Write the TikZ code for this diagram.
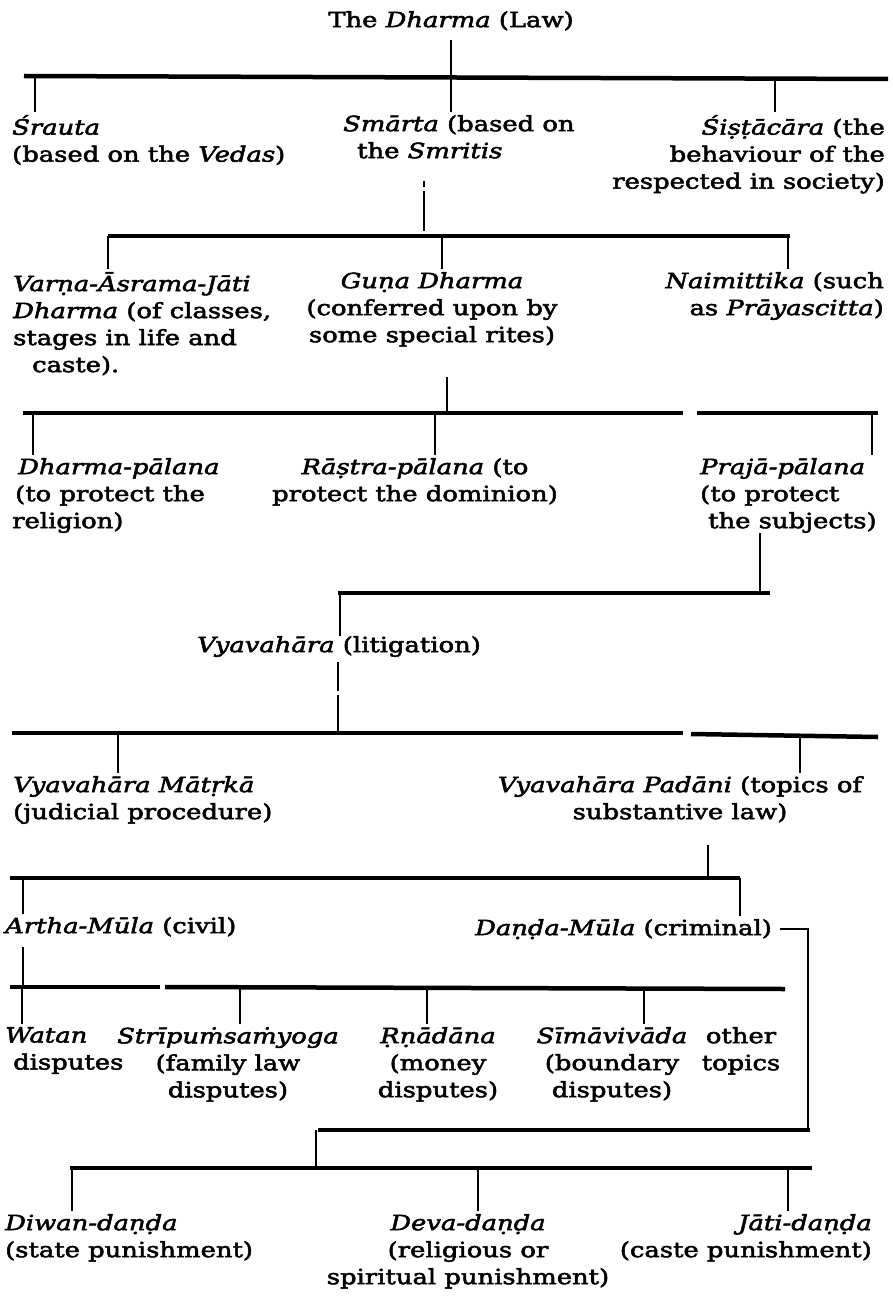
\documentclass[tikz,border=0pt]{standalone}
\usepackage{fontspec}
\setmainfont{DejaVu Serif}[FakeStretch=1.23,FakeBold=2.5]
\usepackage{tikz}

\begin{document}
\begin{tikzpicture}[x=1pt,y=-1pt,
  bar/.style={line width=4.5pt},
  tick/.style={line width=1.3pt},
  lbl/.style={inner sep=0pt,font=\fontsize{21}{27}\selectfont}]
\useasboundingbox (0,0) rectangle (892,1300);

\node[lbl,anchor=north] (title) at (451,11) {The \textit{Dharma} (Law)};
\node[lbl,anchor=north west,align=left] (srauta) at (12,115) {\textit{Śrauta}\\(based on the \textit{Vedas})};
\node[lbl,anchor=north west,align=left] (smarta) at (343,115) {\textit{Smārta} (based on\\\hspace*{14pt}the \textit{Smritis}};
\node[lbl,anchor=north east,align=right] (sista) at (885,115) {\textit{Śiṣṭācāra} (the\\behaviour of the\\respected in society)};

\node[lbl,anchor=north west,align=left] (varna) at (13,272) {\textit{Varṇa-Āsrama-Jāti}\\\textit{Dharma} (of classes,\\stages in life and\\\hspace*{19pt}caste).};
\node[lbl,anchor=north,align=center] (guna) at (432,272) {\textit{Guṇa Dharma}\\(conferred upon by\\some special rites)};
\node[lbl,anchor=north east,align=right] (naim) at (884,272) {\textit{Naimittika} (such\\as \textit{Prāyascitta})};

\node[lbl,anchor=north west,align=left] (dpal) at (12,458) {\hspace*{6pt}\textit{Dharma-pālana}\\\hspace*{3pt}(to protect the\\religion)};
\node[lbl,anchor=north,align=center] (rpal) at (415,458) {\textit{Rāṣtra-pālana} (to\\protect the dominion)};
\node[lbl,anchor=north west,align=left] (ppal) at (700,458) {\textit{Prajā-pālana}\\(to protect\\\hspace*{8pt}the subjects)};

\node[lbl,anchor=north west] (vyav) at (197,636) {\textit{Vyavahāra} (litigation)};

\node[lbl,anchor=north west,align=left] (matr) at (13,776) {\textit{Vyavahāra Mātṛkā}\\(judicial procedure)};
\node[lbl,anchor=north,align=center] (padani) at (680,776) {\textit{Vyavahāra Padāni} (topics of\\substantive law)};

\node[lbl,anchor=north west] (artha) at (5,917) {\textit{Artha-Mūla} (civil)};
\node[lbl,anchor=north west] (danda) at (475,919) {\textit{Daṇḍa-Mūla} (criminal)};

\node[lbl,anchor=north west,align=left] (watan) at (5,1027) {\textit{Watan}\\\hspace*{8pt}disputes};
\node[lbl,anchor=north,align=center] (stri) at (228,1027) {\textit{Strīpuṁsaṁyoga}\\(family law\\disputes)};
\node[lbl,anchor=north,align=center] (rna) at (438,1027) {\textit{Ṛṇādāna}\\(money\\disputes)};
\node[lbl,anchor=north,align=center] (sima) at (612,1027) {\textit{Sīmāvivāda}\\(boundary\\disputes)};
\node[lbl,anchor=north,align=center] (other) at (741,1027) {other\\topics};

\node[lbl,anchor=north west,align=left] (diwan) at (5,1214) {\textit{Diwan-daṇḍa}\\(state punishment)};
\node[lbl,anchor=north,align=center] (deva) at (468,1214) {\textit{Deva-daṇḍa}\\(religious or\\spiritual punishment)};
\node[lbl,anchor=north east,align=right] (jati) at (872,1214) {\textit{Jāti-daṇḍa}\\(caste punishment)};

\draw[bar] (24,76) -- (888,79);
\draw[bar] (108,236) -- (790,236);
\draw[bar] (23,413) -- (683,413);
\draw[bar] (697,413) -- (878,413);
\draw[bar] (338,593) -- (770,593);
\draw[bar] (12,733) -- (683,733);
\draw[bar] (691,734) -- (878,737);
\draw[bar] (10,878) -- (740,878);
\draw[bar] (10,987) -- (160,987);
\draw[bar] (165,987) -- (785,989);
\draw[bar] (318,1130) -- (810,1130);
\draw[bar] (70,1168) -- (812,1168);

\coordinate (a1) at (35,77);   \coordinate (a2) at (451,77);  \coordinate (a3) at (775,78);
\coordinate (b0) at (424,236); \coordinate (b1) at (108,236); \coordinate (b2) at (442,236); \coordinate (b3) at (788,236);
\coordinate (c0) at (447,413); \coordinate (c1) at (33,413);  \coordinate (c2) at (435,413); \coordinate (c3) at (872,413);
\coordinate (d0) at (760,593); \coordinate (d1) at (340,593);
\coordinate (e0) at (338,733); \coordinate (e1) at (118,733); \coordinate (e2) at (800,735);
\coordinate (f0) at (708,878); \coordinate (f1) at (23,878);  \coordinate (f2) at (740,878);
\coordinate (g0) at (23,987);  \coordinate (g1) at (22,987);  \coordinate (g2) at (240,987); \coordinate (g3) at (427,987); \coordinate (g4) at (644,988);
\coordinate (h0) at (808,1130); \coordinate (h1) at (316,1130);
\coordinate (k0) at (316,1168); \coordinate (k1) at (72,1168); \coordinate (k2) at (478,1168); \coordinate (k3) at (788,1168);

\foreach \c/\n in {a1/srauta,a2/smarta,a3/sista,b1/varna,b2/guna,b3/naim,
  c1/dpal,c2/rpal,c3/ppal,e1/matr,e2/padani,f1/artha,f2/danda,
  g1/watan,g2/stri,g3/rna,g4/sima,k1/diwan,k2/deva,k3/jati}
  \draw[tick,shorten >=3pt] (\c) -- (\c |- \n.north);

\draw[tick] (d1) -- (d1 |- vyav.north);
\draw[tick,shorten <=9pt] (title.south) -- (a2);
\draw[tick,shorten <=22pt,dash pattern=on 6pt off 4pt on 40pt] (b0 |- smarta.south) -- (b0);
\draw[tick,shorten <=30pt] (guna.south -| c0) -- (c0);
\draw[tick] (ppal.south -| d0) -- (d0);
\draw[tick,shorten <=5pt,dash pattern=on 29pt off 4pt on 60pt] (vyav.south -| e0) -- (e0);
\draw[tick,shorten <=22pt] (padani.south -| f0) -- (f0);
\draw[tick,shorten <=10pt] (artha.south -| g0) -- (g0);
\draw[line width=1.8pt] ([xshift=8pt]danda.east) -- (h0 |- danda.east) -- (h0);
\draw[tick] (h1) -- (k0);

\end{tikzpicture}
\end{document}
